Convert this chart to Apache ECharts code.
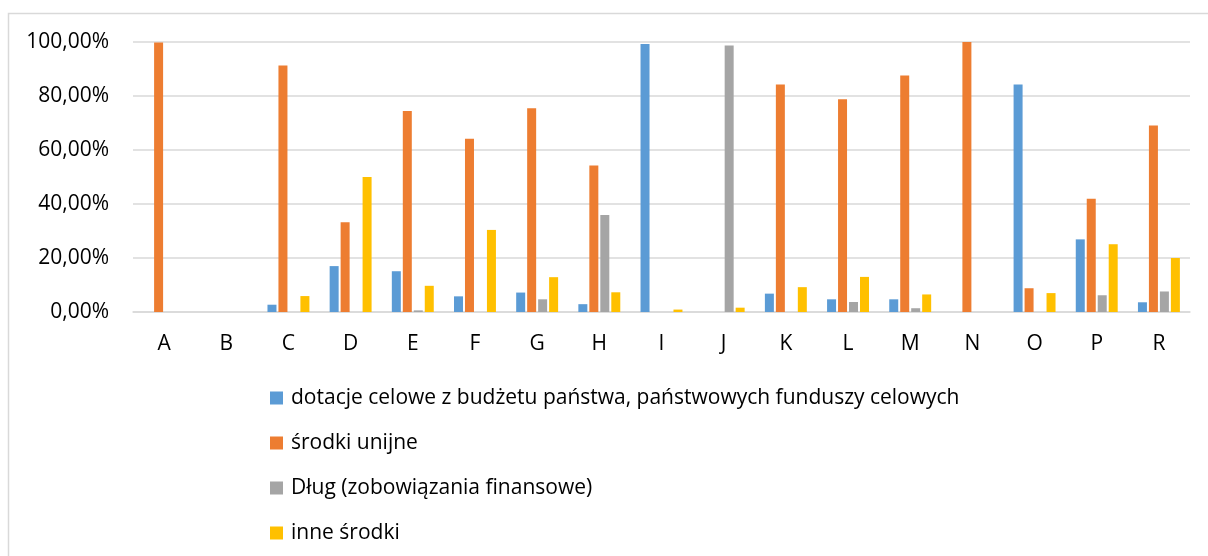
<!DOCTYPE html>
<html>
<head>
<meta charset="utf-8">
<script src="https://cdn.jsdelivr.net/npm/echarts@6/dist/echarts.min.js"></script>
<style>html,body{margin:0;padding:0;background:#fff;}#c{width:1208px;height:556px;}</style>
</head>
<body>
<div id="c"></div>
<script>
var categories = ['A','B','C','D','E','F','G','H','I','J','K','L','M','N','O','P','R'];
var seriesNames = ['dotacje celowe z budżetu państwa, państwowych funduszy celowych','środki unijne','Dług (zobowiązania finansowe)','inne środki'];
var dotacje = [0,0,2.7,17,15.1,5.8,7.2,2.9,99.3,0,6.8,4.7,4.7,0,84.3,26.9,3.6];
var unijne  = [99.8,0,91.3,33.2,74.4,64.2,75.5,54.3,0,0,84.3,78.8,87.6,100,8.8,41.9,69.1];
var dlug    = [0,0,0,0,0.6,0,4.7,35.9,0,98.7,0,3.7,1.4,0,0,6.2,7.6];
var inne    = [0,0,5.9,50,9.7,30.4,12.9,7.3,0.9,1.6,9.2,13,6.5,0,7,25.1,20];
var yTicks = [0,20,40,60,80,100];

var colors = ['#5B9BD5','#ED7D31','#A5A5A5','#FFC000'];
var font = 'Open Sans';
var chart = echarts.init(document.getElementById('c'), null, {renderer:'canvas'});
function mk(name, data, i){
  return {name:name, type:'bar', data:data, barWidth:9, barGap:'22%',
    itemStyle:{color:colors[i]}, emphasis:{disabled:true}};
}
chart.setOption({
  animation:false,
  color:colors,
  graphic:[{type:'rect', shape:{x:8.5,y:13.5,width:1220,height:580}, style:{fill:'none',stroke:'#d9d9d9',lineWidth:1.5}, silent:true}],
  grid:{left:133,right:18,top:42,height:270,containLabel:false},
  xAxis:{type:'category', data:categories,
    axisLine:{lineStyle:{color:'#d9d9d9',width:1.5}}, axisTick:{show:false},
    axisLabel:{color:'#000',fontFamily:font,fontSize:21,lineHeight:22,margin:21}},
  yAxis:{type:'value', min:yTicks[0], max:yTicks[yTicks.length-1], interval:20,
    axisLine:{show:false}, axisTick:{show:false},
    splitLine:{lineStyle:{color:'#d9d9d9',width:1.5}},
    axisLabel:{color:'#000',fontFamily:font,fontSize:21,margin:24,
      formatter:function(v){return v.toFixed(2).replace('.',',')+'%';}}},
  legend:{orient:'vertical', left:270, top:387, padding:0, itemWidth:13, itemHeight:13, itemGap:23,
    icon:'rect', selectedMode:false,
    textStyle:{color:'#000',fontFamily:font,fontSize:21,lineHeight:22,padding:[0,0,0,3]},
    data:seriesNames},
  series:[mk(seriesNames[0],dotacje,0),mk(seriesNames[1],unijne,1),mk(seriesNames[2],dlug,2),mk(seriesNames[3],inne,3)]
});
</script>
</body>
</html>
